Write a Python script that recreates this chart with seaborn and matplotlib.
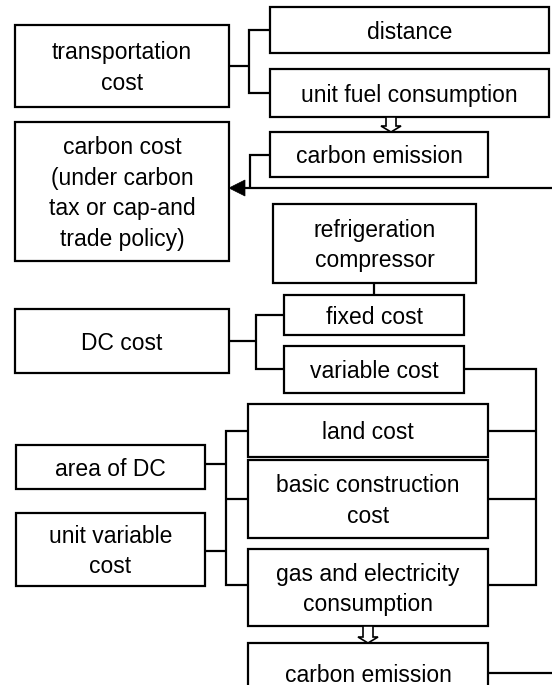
import matplotlib
matplotlib.use("Agg")
import matplotlib.pyplot as plt
import seaborn as sns
from matplotlib.patches import Rectangle, Polygon

sns.set_theme(style="white")
plt.rcParams['font.family'] = ['Liberation Sans', 'DejaVu Sans']

# ---- content ----
labels = [
    "transportation\ncost", "distance", "unit fuel consumption",
    "carbon cost\n(under carbon\ntax or cap-and\ntrade policy)",
    "carbon emission", "refrigeration\ncompressor",
    "DC cost", "fixed cost", "variable cost",
    "land cost", "area of DC", "basic construction\ncost",
    "unit variable\ncost", "gas and electricity\nconsumption", "carbon emission",
]

# ---- layout (pixel coordinates: x0, y0, x1, y1) ----
boxes = [
    (15, 25, 229, 107), (270, 7, 549, 53), (270, 69, 549, 117),
    (15, 122, 229, 261), (270, 132, 488, 177), (273, 204, 476, 283),
    (15, 309, 229, 373), (284, 295, 464, 335), (284, 346, 464, 393),
    (248, 404, 488, 457), (16, 445, 205, 489), (248, 460, 488, 538),
    (16, 513, 205, 586), (248, 549, 488, 626), (248, 643, 488, 703),
]

connectors = [
    [(229, 66), (249, 66)],
    [(270, 30), (249, 30), (249, 93), (270, 93)],
    [(270, 155), (250, 155), (250, 188)],
    [(374, 283), (374, 295)],
    [(229, 341), (256, 341)],
    [(284, 315), (256, 315), (256, 369), (284, 369)],
    [(464, 369), (536, 369), (536, 585), (488, 585)],
    [(488, 431), (536, 431)],
    [(488, 499), (536, 499)],
    [(248, 431), (226, 431), (226, 585), (248, 585)],
    [(226, 499), (248, 499)],
    [(205, 464), (226, 464)],
    [(205, 551), (226, 551)],
    [(488, 673), (560, 673)],
]

LW = 1.6
fig = plt.figure(figsize=(5.52, 6.85), dpi=100)
ax = fig.add_axes([0, 0, 1, 1])
ax.set_xlim(0, 552)
ax.set_ylim(685, 0)
ax.axis("off")

for (x0, y0, x1, y1), lab in zip(boxes, labels):
    ax.add_patch(Rectangle((x0, y0), x1 - x0, y1 - y0, facecolor="white",
                           edgecolor="black", lw=LW, zorder=2))
    ax.text((x0 + x1) / 2, (y0 + y1) / 2 + 2, lab, ha="center", va="center",
            fontsize=16.5, color="black", linespacing=1.42, zorder=3)

for pts in connectors:
    xs, ys = zip(*pts)
    ax.plot(xs, ys, color="black", lw=LW, solid_joinstyle="miter",
            solid_capstyle="butt", zorder=1)

# long feedback line with filled arrowhead into carbon cost box
ax.plot([560, 244], [188, 188], color="black", lw=LW, zorder=1)
ax.add_patch(Polygon([(229, 188), (245, 180), (245, 196)], closed=True,
                     facecolor="black", edgecolor="black", lw=0.5, zorder=4))


def hollow_arrow(xc, ytop, ybot, shaft=5, head=10, hl=6):
    pts = [(xc - shaft, ytop), (xc + shaft, ytop), (xc + shaft, ybot - hl),
           (xc + head, ybot - hl), (xc, ybot), (xc - head, ybot - hl),
           (xc - shaft, ybot - hl)]
    ax.add_patch(Polygon(pts, closed=True, facecolor="white",
                         edgecolor="black", lw=1.2, zorder=4))


hollow_arrow(391, 117, 132)
hollow_arrow(368, 626, 643)

fig.savefig("out.png", dpi=100)
